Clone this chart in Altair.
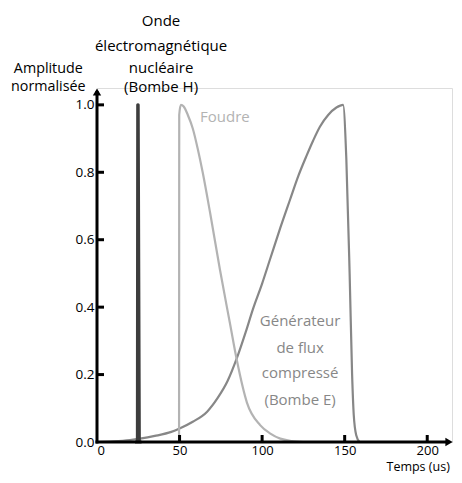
import altair as alt
import pandas as pd

# ---- data ----
emp_x = [23, 24.5, 24.7, 24.9, 25.6, 27]
emp_y = [0, 0, 1.0, 1.0, 0, 0]

foudre_x = [49.7, 49.8, 50.8, 52.5, 55, 58, 61, 64, 68.5, 74.5, 80.6, 84.8, 90.8, 98.8, 105, 111, 118, 125]
foudre_y = [0, 0.97, 1.0, 0.995, 0.97, 0.93, 0.87, 0.80, 0.68, 0.51, 0.35, 0.24, 0.117, 0.05, 0.025, 0.01, 0.003, 0]

bombe_e_x = [0, 10, 20, 26, 35, 45, 50, 58, 66.7, 73, 79, 84.8, 90, 94.5, 100, 105, 111, 117,
             122, 127, 131, 135, 140, 145, 149, 151, 153, 154.5, 155.5, 157, 159]
bombe_e_y = [0, 0.002, 0.006, 0.01, 0.018, 0.03, 0.04, 0.06, 0.09, 0.13, 0.18, 0.25, 0.325, 0.395,
             0.47, 0.545, 0.635, 0.72, 0.79, 0.85, 0.895, 0.935, 0.97, 0.992, 1.0, 0.84, 0.5, 0.2, 0.08, 0.02, 0]

series_colors = ["#878787", "#b3b3b3", "#3d3d3d"]

y_ticks = [0.0, 0.2, 0.4, 0.6, 0.8, 1.0]
x_ticks = [0, 50, 100, 150, 200]

FONT = "Open Sans"
W, H = 355, 354
XDOM, YDOM = [0, 215], [0, 1.05]

xs = alt.Scale(domain=XDOM, nice=False, zero=False)
ys = alt.Scale(domain=YDOM, nice=False, zero=False)

x_axis = alt.Axis(values=x_ticks, labelExpr="datum.value", title=None, grid=False,
                  domain=False, tickSize=0, labelPadding=2,
                  labelFontSize=13, labelFont=FONT, labelColor="black")
y_axis = alt.Axis(values=y_ticks, format=".1f", title=None, grid=False,
                  domain=False, tickSize=0, labelPadding=3,
                  labelFontSize=13.5, labelFont=FONT, labelColor="black")


def series_layer(xv, yv, color, width, interp):
    d = pd.DataFrame({"t": xv, "amp": yv, "order": list(range(len(xv)))})
    return alt.Chart(d).mark_line(color=color, strokeWidth=width, interpolate=interp,
                                  strokeJoin="round").encode(
        x=alt.X("t:Q", scale=xs, axis=x_axis),
        y=alt.Y("amp:Q", scale=ys, axis=y_axis),
        order="order:Q",
    )


line_e = series_layer(bombe_e_x, bombe_e_y, series_colors[0], 2.2, "monotone")
line_f = series_layer(foudre_x, foudre_y, series_colors[1], 2.2, "monotone")
line_h = series_layer(emp_x, emp_y, series_colors[2], 3.2, "linear")

# axis lines as thin rectangles along the plot edges
axis_rects = alt.Chart(pd.DataFrame({"a": [0]})).mark_rect(color="black").encode(
    x=alt.value(-1.5), x2=alt.value(1.5), y=alt.value(3), y2=alt.value(H + 1.5))
axis_rects2 = alt.Chart(pd.DataFrame({"a": [0]})).mark_rect(color="black").encode(
    x=alt.value(-1.5), x2=alt.value(W - 5), y=alt.value(H - 1.5), y2=alt.value(H + 1.5))

# inward tick marks
ytick_df = pd.DataFrame({"v": y_ticks[1:]})
yticks = alt.Chart(ytick_df).mark_rule(color="black", strokeWidth=3).encode(
    y=alt.Y("v:Q", scale=ys), x=alt.value(0), x2=alt.value(7))
xtick_df = pd.DataFrame({"v": x_ticks[1:]})
xticks = alt.Chart(xtick_df).mark_rule(color="black", strokeWidth=3).encode(
    x=alt.X("v:Q", scale=xs), y=alt.value(H), y2=alt.value(H - 7))

# arrow heads
arrow_up = alt.Chart(pd.DataFrame({"a": [0]})).mark_point(
    shape="triangle-up", filled=True, color="black", size=70, opacity=1).encode(
    x=alt.value(0), y=alt.value(4))
arrow_right = alt.Chart(pd.DataFrame({"a": [0]})).mark_point(
    shape="triangle-right", filled=True, color="black", size=70, opacity=1).encode(
    x=alt.value(W - 3), y=alt.value(H))

# annotations
onde_lines = ["Onde", "électromagnétique", "nucléaire", "(Bombe H)"]
onde_y = [1.25, 1.174, 1.11, 1.052]
onde = alt.Chart(pd.DataFrame({"txt": onde_lines, "yy": onde_y, "xx": [38.8] * 4})).mark_text(
    font=FONT, fontSize=15, color="black", align="center", baseline="middle").encode(
    x=alt.X("xx:Q", scale=xs), y=alt.Y("yy:Q", scale=ys), text="txt:N")

amp_lines = ["Amplitude", "normalisée"]
amp = alt.Chart(pd.DataFrame({"txt": amp_lines, "yy": [1.105, 1.053], "xx": [-29.5, -29.5]})).mark_text(
    font=FONT, fontSize=14.3, color="black", align="center", baseline="middle").encode(
    x=alt.X("xx:Q", scale=xs), y=alt.Y("yy:Q", scale=ys), text="txt:N")

foudre_lbl = alt.Chart(pd.DataFrame({"txt": ["Foudre"], "yy": [0.965], "xx": [62.4]})).mark_text(
    font=FONT, fontSize=15, color="#b3b3b3", align="left", baseline="middle").encode(
    x=alt.X("xx:Q", scale=xs), y=alt.Y("yy:Q", scale=ys), text="txt:N")

gen_lines = ["Générateur", "de flux", "compressé", "(Bombe E)"]
gen = alt.Chart(pd.DataFrame({"txt": gen_lines, "yy": [0.36, 0.278, 0.205, 0.126], "xx": [123] * 4})).mark_text(
    font=FONT, fontSize=15, color="#878787", align="center", baseline="middle").encode(
    x=alt.X("xx:Q", scale=xs), y=alt.Y("yy:Q", scale=ys), text="txt:N")

temps = alt.Chart(pd.DataFrame({"txt": ["Temps (us)"], "yy": [-0.074], "xx": [194.5]})).mark_text(
    font=FONT, fontSize=12.5, color="black", align="center", baseline="middle").encode(
    x=alt.X("xx:Q", scale=xs), y=alt.Y("yy:Q", scale=ys), text="txt:N")

chart = alt.layer(line_e, line_f, line_h, axis_rects, axis_rects2, yticks, xticks,
                  arrow_up, arrow_right, onde, amp, foudre_lbl, gen, temps).properties(
    width=W, height=H,
    autosize=alt.AutoSizeParams(type="none"),
    padding={"left": 89, "top": 80, "right": 2, "bottom": 33},
).configure_view(stroke=None).configure(background="white")

chart.save("out.html", embed_options={"renderer": "svg", "actions": False})
